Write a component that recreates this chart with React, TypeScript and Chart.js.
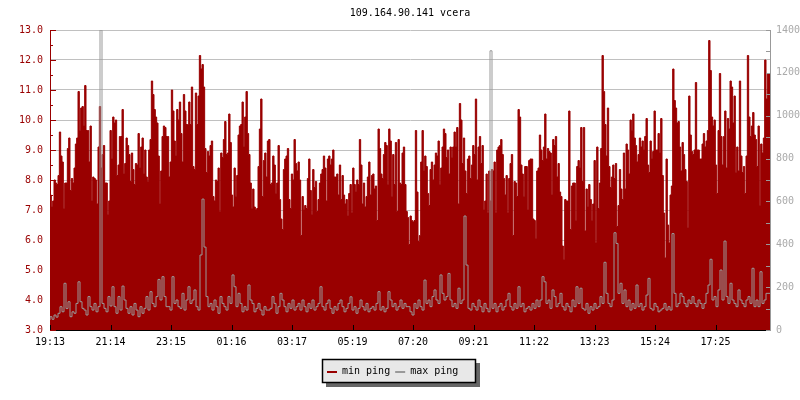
import React, { useEffect, useRef } from "react";
import { Chart, registerables } from "chart.js";

Chart.register(...registerables);

const chartTitle = "109.164.90.141 vcera";
const seriesNames = ["min ping", "max ping"];
const xTickLabels = ["19:13", "21:14", "23:15", "01:16", "03:17", "05:19", "07:20", "09:21", "11:22", "13:23", "15:24", "17:25"];
const xTickEveryMinutes = 121;
const spanMinutes = 1440;
const leftRange = [3, 13];
const rightRange = [0, 1400];

// min ping (ms, left axis), evenly spaced over the 24h span
const minPing = [
  7.6, 7.5, 7.1, 7.3, 8.0, 7.9, 7.85, 8.15, 9.6, 8.8,
  8.6, 7.05, 7.9, 7.9, 9.05, 9.4, 7.65, 8.05, 7.9, 8.4,
  9.2, 9.4, 10.95, 9.65, 10.4, 10.45, 9.8, 11.15, 9.65, 9.65,
  8.6, 9.8, 7.3, 8.1, 8.05, 8.0, 7.2, 9.1, 10.45, 8.4,
  8.85, 9.15, 7.9, 7.9, 6.85, 7.3, 9.65, 8.7, 10.1, 9.9,
  10.0, 8.15, 8.5, 9.45, 9.45, 10.35, 8.2, 8.55, 9.4, 9.15,
  8.85, 7.95, 8.9, 8.35, 7.85, 8.55, 8.5, 9.55, 8.4, 9.1,
  9.4, 8.2, 9.0, 8.1, 7.95, 9.0, 9.35, 11.3, 10.85, 10.35,
  10.1, 9.9, 8.8, 7.2, 8.3, 9.45, 9.8, 9.75, 9.45, 9.45,

  8.1, 8.6, 11.0, 10.3, 9.3, 8.8, 10.35, 10.0, 10.6, 9.55,
  8.6, 10.85, 10.3, 9.85, 9.85, 10.6, 9.85, 11.1, 8.45, 8.35,
  10.9, 9.85, 10.8, 12.15, 11.7, 11.85, 11.1, 9.05, 8.25, 8.95,
  8.8, 9.15, 9.3, 7.45, 7.3, 8.0, 7.95, 8.4, 6.95, 8.9,
  8.75, 9.35, 9.95, 8.85, 8.9, 10.2, 9.25, 7.5, 7.1, 8.4,
  7.45, 8.15, 9.5, 9.8, 9.85, 10.6, 9.1, 10.1, 10.95, 9.55,
  8.85, 7.9, 7.05, 7.7, 7.1, 7.0, 7.05, 8.45, 9.7, 10.7,
  7.45, 8.65, 8.9, 8.1, 9.3, 9.35, 7.85, 7.9, 8.8, 8.5,
  7.55, 7.9, 9.15, 7.35, 6.7, 6.35, 8.35, 8.7, 8.8, 9.05,

  7.35, 7.05, 8.2, 8.0, 9.35, 8.55, 8.3, 8.6, 8.0, 6.15,
  7.45, 7.0, 7.15, 7.05, 8.05, 8.7, 7.65, 6.85, 8.35, 7.75,
  7.95, 6.95, 7.35, 7.9, 8.2, 8.35, 8.8, 8.4, 7.3, 8.7,
  8.8, 8.5, 8.7, 9.0, 8.1, 8.1, 8.2, 7.5, 8.5, 7.35,
  8.15, 7.5, 7.2, 7.35, 6.8, 7.55, 7.85, 6.9, 8.4, 7.85,
  7.6, 8.0, 7.85, 9.35, 8.5, 7.2, 7.9, 7.1, 7.45, 8.1,
  8.6, 7.5, 8.15, 8.2, 7.7, 7.8, 6.65, 9.7, 9.05, 8.2,
  8.05, 8.85, 9.25, 9.15, 7.85, 9.7, 9.3, 7.45, 8.85, 7.85,
  9.25, 6.95, 9.35, 7.9, 7.85, 8.9, 9.1, 7.85, 6.95, 6.75,

  5.85, 6.8, 6.65, 6.6, 6.65, 9.65, 7.6, 5.95, 6.15, 8.6,
  9.65, 8.3, 8.8, 8.45, 7.55, 7.15, 8.35, 8.6, 8.0, 8.5,
  8.9, 8.8, 9.3, 7.85, 8.4, 9.1, 9.7, 9.55, 8.75, 9.0,
  8.2, 9.1, 8.75, 9.1, 9.6, 9.1, 9.75, 7.2, 10.55, 10.0,
  8.55, 9.4, 8.3, 7.55, 8.7, 8.8, 8.05, 8.5, 9.15, 8.85,
  10.7, 8.0, 9.1, 9.45, 8.55, 9.15, 7.0, 7.3, 8.2, 6.9,
  8.3, 7.3, 8.35, 8.3, 8.6, 6.9, 9.0, 9.1, 9.15, 9.35,
  8.85, 8.05, 7.5, 8.15, 6.9, 8.05, 8.55, 8.85, 6.15, 7.95,
  7.9, 7.45, 10.35, 10.1, 8.5, 8.2, 7.45, 8.45, 8.45, 7.0,

  8.65, 8.7, 8.7, 6.7, 6.65, 6.05, 8.3, 8.4, 9.5, 9.0,
  8.65, 9.1, 10.2, 8.7, 9.05, 8.95, 8.9, 7.5, 9.35, 9.15,
  9.45, 8.1, 8.55, 7.6, 7.45, 5.8, 5.35, 7.35, 7.3, 7.3,
  10.3, 6.35, 7.8, 7.9, 7.9, 6.65, 8.45, 8.65, 8.4, 9.75,
  7.95, 9.75, 6.3, 7.7, 7.1, 7.85, 7.35, 6.65, 7.2, 8.65,
  5.9, 9.1, 7.05, 7.9, 9.05, 12.15, 10.95, 9.85, 8.8, 10.4,
  8.45, 7.75, 8.1, 8.5, 8.05, 8.55, 6.45, 7.15, 8.35, 7.7,
  7.35, 8.9, 7.7, 9.2, 9.0, 8.2, 10.0, 9.65, 10.2, 9.4,
  9.15, 8.6, 8.85, 9.4, 9.1, 9.3, 9.0, 9.45, 10.05, 8.5,

  8.25, 9.3, 8.7, 8.95, 10.3, 9.0, 9.0, 9.55, 8.9, 10.05,
  8.15, 6.9, 5.4, 8.7, 6.5, 5.9, 7.5, 7.8, 11.7, 10.65,
  10.4, 9.9, 9.95, 9.1, 8.3, 9.25, 8.85, 8.35, 7.95, 6.4,
  10.8, 9.5, 8.95, 8.85, 9.0, 11.25, 9.0, 9.0, 8.7, 8.7,
  9.2, 9.55, 9.1, 9.3, 9.65, 12.65, 11.65, 10.1, 9.8, 10.0,
  8.5, 7.55, 9.65, 11.55, 9.45, 8.5, 9.45, 10.3, 8.4, 10.05,
  9.7, 11.3, 11.1, 9.9, 10.8, 8.25, 9.1, 8.3, 11.3, 8.8,
  8.25, 8.45, 7.55, 8.8, 12.15, 10.1, 9.45, 9.8, 10.25, 9.5,
  9.35, 8.45, 9.8, 7.15, 9.2, 8.9, 9.4, 12.0, 10.7, 11.55,
];

// max ping (ms, right axis), evenly spaced over the 24h span
const maxPing = [
  47, 62, 50, 70, 60, 78, 109, 85, 218, 100,
  132, 62, 85, 78, 124, 225, 132, 101, 93, 70,
  156, 109, 93, 124, 85, 109, 1400, 124, 101, 85,
  156, 112, 202, 109, 78, 156, 93, 205, 140, 101,
  78, 109, 70, 124, 93, 62, 109, 78, 101, 156,
  93, 179, 124, 109, 156, 236, 140, 249, 156, 109,

  109, 93, 249, 124, 140, 109, 101, 171, 93, 140,
  202, 124, 140, 187, 109, 93, 350, 611, 387, 156,
  109, 124, 93, 140, 109, 78, 156, 124, 109, 93,
  156, 124, 257, 202, 109, 171, 124, 85, 109, 93,
  210, 140, 124, 85, 101, 124, 93, 70, 109, 93,
  93, 101, 156, 124, 78, 109, 171, 140, 109, 85,

  124, 101, 140, 93, 109, 124, 93, 140, 109, 85,
  124, 101, 140, 93, 109, 124, 202, 109, 93, 124,
  140, 101, 78, 109, 93, 124, 140, 109, 85, 101,
  124, 155, 93, 109, 78, 101, 140, 109, 93, 124,
  85, 101, 109, 93, 124, 179, 93, 109, 85, 101,
  179, 140, 109, 124, 93, 109, 140, 101, 124, 109,

  109, 85, 70, 124, 101, 140, 109, 93, 233, 124,
  140, 109, 156, 187, 140, 124, 257, 171, 140, 156,
  264, 140, 109, 124, 101, 195, 124, 140, 532, 303,
  101, 93, 124, 109, 93, 140, 109, 85, 124, 101,
  85, 1303, 101, 124, 85, 109, 124, 93, 109, 140,
  171, 109, 93, 124, 101, 202, 109, 124, 85, 101,

  109, 93, 124, 101, 140, 109, 140, 249, 225, 124,
  140, 101, 187, 156, 109, 124, 171, 109, 93, 124,
  109, 85, 140, 109, 202, 124, 195, 101, 93, 124,
  78, 109, 93, 124, 101, 109, 156, 124, 316, 171,
  124, 109, 140, 454, 404, 171, 218, 124, 187, 109,
  140, 93, 124, 101, 210, 109, 124, 93, 109, 163,

  241, 101, 93, 124, 109, 85, 93, 101, 124, 93,
  109, 93, 450, 171, 109, 124, 171, 156, 124, 109,
  140, 124, 156, 124, 109, 140, 124, 101, 124, 171,
  210, 330, 140, 156, 109, 187, 280, 140, 415, 156,
  124, 218, 140, 124, 109, 187, 140, 124, 109, 140,
  156, 124, 288, 109, 140, 109, 272, 124, 140, 171,
];

const RED = "#990000";
const GRAY = "#999999";
const MONO = "'DejaVu Sans Mono', monospace";

function stepPoints(values: number[]) {
  const step = spanMinutes / values.length;
  const pts = values.map((v, i) => ({ x: i * step, y: v }));
  pts.push({ x: spanMinutes, y: values[values.length - 1] });
  return pts;
}

const decorPlugin = {
  id: "decor",
  afterDraw(chart: any) {
    const { ctx, chartArea: a, scales } = chart;
    ctx.save();
    ctx.lineWidth = 1;

    // x axis line + ticks (inside)
    ctx.strokeStyle = "#000";
    ctx.beginPath();
    ctx.moveTo(a.left, Math.round(a.bottom) + 0.5);
    ctx.lineTo(a.right, Math.round(a.bottom) + 0.5);
    xTickLabels.forEach((_, i) => {
      const px = Math.round(scales.x.getPixelForValue(i * xTickEveryMinutes)) + 0.5;
      ctx.moveTo(px, a.bottom - 5);
      ctx.lineTo(px, a.bottom);
    });
    ctx.stroke();

    // left axis ticks
    ctx.strokeStyle = RED;
    ctx.beginPath();
    for (let v = leftRange[0]; v <= leftRange[1]; v += 0.5) {
      const py = Math.round(scales.y.getPixelForValue(v)) + 0.5;
      const len = Number.isInteger(v) ? 6 : 3;
      ctx.moveTo(a.left, py);
      ctx.lineTo(a.left + len, py);
    }
    ctx.stroke();

    // right axis ticks
    ctx.strokeStyle = GRAY;
    ctx.beginPath();
    for (let v = rightRange[0]; v <= rightRange[1]; v += 100) {
      const py = Math.round(scales.y2.getPixelForValue(v)) + 0.5;
      ctx.moveTo(a.right - 4, py);
      ctx.lineTo(a.right, py);
    }
    ctx.stroke();

    // title
    ctx.font = `10px ${MONO}`;
    ctx.fillStyle = "#000";
    ctx.textAlign = "center";
    ctx.textBaseline = "middle";
    ctx.fillText(chartTitle, (a.left + a.right) / 2, 13);

    // legend
    const bx = 322, by = 359, bw = 154, bh = 24;
    ctx.fillStyle = "#666666";
    ctx.fillRect(bx + 4, by + 4, bw, bh);
    ctx.fillStyle = "#e8e8e8";
    ctx.fillRect(bx, by, bw, bh);
    ctx.strokeStyle = "#000";
    ctx.lineWidth = 1.5;
    ctx.strokeRect(bx + 0.5, by + 0.5, bw - 1, bh - 1);
    const cy = by + 13;
    let cx = bx + 5;
    const colors = [RED, GRAY];
    ctx.textAlign = "left";
    ctx.textBaseline = "middle";
    seriesNames.forEach((name, i) => {
      ctx.fillStyle = colors[i];
      ctx.fillRect(cx, cy - 1, 10, 2);
      cx += 15;
      ctx.fillStyle = "#000";
      ctx.fillText(name, cx, cy - 1);
      cx += ctx.measureText(name).width + 5;
    });
    ctx.restore();
  },
};

export default function App() {
  const ref = useRef<HTMLCanvasElement | null>(null);
  useEffect(() => {
    if (!ref.current) return;
    const font = { family: MONO, size: 10 };
    const chart = new Chart(ref.current, {
      type: "line",
      data: {
        datasets: [
          {
            label: seriesNames[1],
            data: stepPoints(maxPing),
            yAxisID: "y2",
            borderColor: GRAY,
            borderWidth: 1,
            stepped: "after",
            pointRadius: 0,
            fill: false,
            order: 0,
          },
          {
            label: seriesNames[0],
            data: stepPoints(minPing),
            yAxisID: "y",
            borderColor: RED,
            backgroundColor: RED,
            borderWidth: 1,
            stepped: "after",
            pointRadius: 0,
            fill: "start",
            order: 1,
          },
        ],
      },
      options: {
        responsive: false,
        animation: false,
        devicePixelRatio: 1,
        events: [],
        layout: { padding: { top: 30, left: 0, right: 0, bottom: 0 } },
        plugins: {
          legend: { display: false },
          tooltip: { enabled: false },
          title: { display: false },
        },
        scales: {
          x: {
            type: "linear",
            min: 0,
            max: spanMinutes,
            afterFit: (s: any) => {
              s.height = 70;
            },
            afterBuildTicks: (s: any) => {
              s.ticks = xTickLabels.map((_, i) => ({ value: i * xTickEveryMinutes }));
            },
            ticks: {
              callback: (_v: any, i: number) => xTickLabels[i],
              color: "#000",
              font,
              padding: 6,
              maxRotation: 0,
              autoSkip: false,
            },
            grid: { display: false, drawTicks: false },
            border: { display: true, color: "#000" },
          },
          y: {
            position: "left",
            min: leftRange[0],
            max: leftRange[1],
            afterFit: (s: any) => {
              s.width = 50;
            },
            ticks: {
              stepSize: 1,
              callback: (v: any) => Number(v).toFixed(1),
              color: RED,
              font,
              padding: 7,
            },
            grid: { color: "#c0c0c0", drawTicks: false },
            border: { display: true, color: RED },
          },
          y2: {
            position: "right",
            min: rightRange[0],
            max: rightRange[1],
            afterFit: (s: any) => {
              s.width = 30;
            },
            ticks: {
              stepSize: 200,
              callback: (v: any) => String(Math.round(Number(v))),
              color: "#aaaaaa",
              font,
              padding: 6,
            },
            grid: { drawOnChartArea: false, drawTicks: false },
            border: { display: true, color: GRAY },
          },
        },
      },
      plugins: [decorPlugin],
    } as any);
    return () => chart.destroy();
  }, []);
  return (
    <div style={{ position: "fixed", left: 0, top: 0, width: 800, height: 400, background: "#fff" }}>
      <canvas ref={ref} width={800} height={400} style={{ display: "block" }} />
    </div>
  );
}
